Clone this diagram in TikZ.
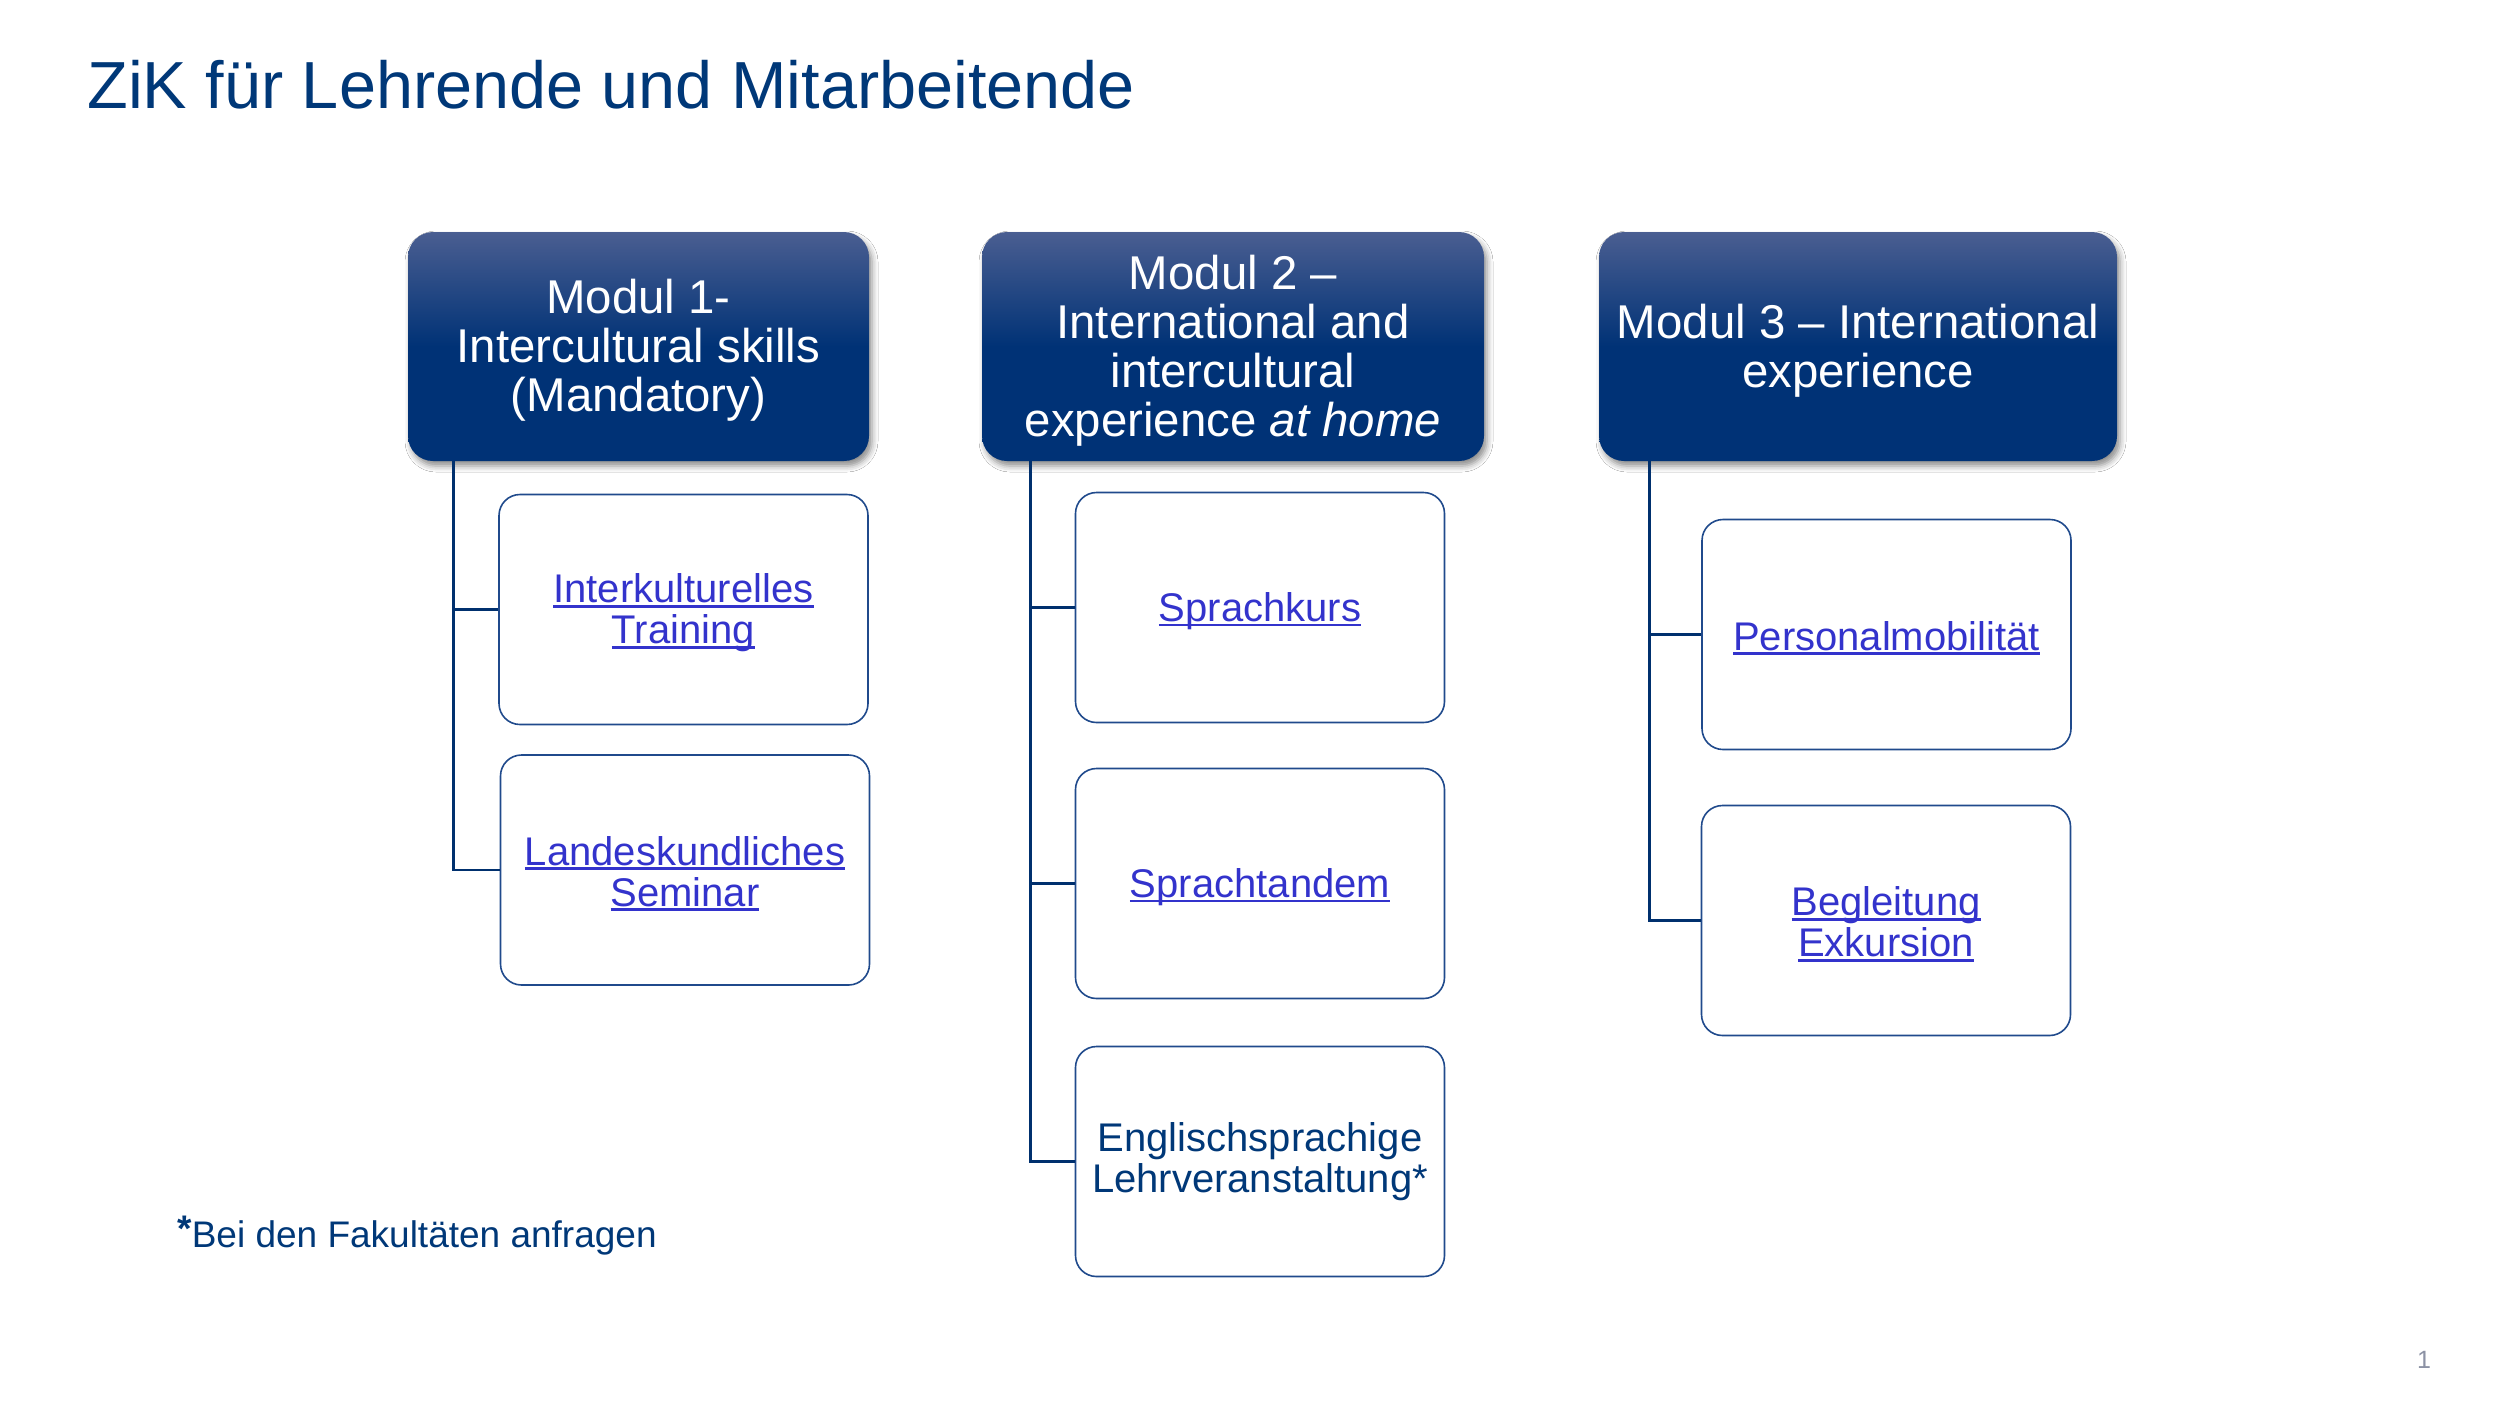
\documentclass[tikz,border=0pt]{standalone}
\usepackage{fontspec}
\setmainfont{Liberation Sans}
\usetikzlibrary{shadows.blur}
\definecolor{navy}{RGB}{0,56,120}
\definecolor{hdtop}{RGB}{74,94,145}
\definecolor{hdbot}{RGB}{0,50,118}
\definecolor{linkc}{RGB}{51,51,204}
\definecolor{bordc}{RGB}{32,74,140}
\definecolor{linec}{RGB}{0,48,110}
\definecolor{pgc}{RGB}{140,146,165}
\newlength\ulwd
\newcommand\lnk[1]{\settowidth\ulwd{#1}\makebox[0pt][l]{\rule[-0.125em]{\ulwd}{0.065em}}#1}
\newcommand\topstrut{\rule{0pt}{0.9em}}
\begin{document}
\begin{tikzpicture}[x=0.5pt,y=-0.5pt,
  hdr/.style={rectangle, rounded corners=12.5pt, top color=hdtop, bottom color=hdbot, middle color=hdbot,
    text=white, align=center, inner sep=0pt, minimum height=114.5pt,
    font=\fontsize{23.7}{24.5}\selectfont,
    blur shadow={shadow xshift=1.5pt, shadow yshift=-2.5pt, shadow blur radius=3pt, shadow opacity=45}},
  itembox/.style={rectangle, rounded corners=10.5pt, draw=bordc, line width=0.8pt, fill=white,
    align=center, inner sep=0pt, minimum width=184.5pt, minimum height=115pt,
    font=\fontsize{20}{20.5}\selectfont, text=linkc},
  conn/.style={draw=linec, line width=1.2pt}
]
\useasboundingbox (0,0) rectangle (2520,1420);
\fill[white] (0,0) rectangle (2520,1420);

% title
\node[anchor=base west, inner sep=0pt, text=navy, font=\fontsize{33.3}{40}\selectfont] (title) at (87,108) {ZiK für Lehrende und Mitarbeitende};

% headers
\node[hdr, minimum width=230.5pt] (m1) at (638.5,346.5) {\topstrut Modul 1-\\Intercultural skills\\(Mandatory)};
\node[hdr, minimum width=251pt] (m2) at (1233,346.5) {\topstrut Modul 2 –\\International and\\intercultural\\experience \textit{at home}};
\node[hdr, minimum width=259pt] (m3) at (1858,346.5) {\topstrut Modul 3 – International\\experience};

% children
\node[itembox] (c11) at (683.5,609.5) {\topstrut\lnk{Interkulturelles}\\\lnk{Training}};
\node[itembox] (c12) at (685,870) {\topstrut\lnk{Landeskundliches}\\\lnk{Seminar}};
\node[itembox] (c21) at (1260,607.5) {\topstrut\lnk{Sprachkurs}};
\node[itembox] (c22) at (1260,883.5) {\topstrut\lnk{Sprachtandem}};
\node[itembox, text=navy] (c23) at (1260,1161.5) {Englischsprachige\\Lehrveranstaltung*};
\node[itembox] (c31) at (1886.5,634.5) {\topstrut\lnk{Personalmobilität}};
\node[itembox] (c32) at (1886,920.5) {\topstrut\lnk{Begleitung}\\\lnk{Exkursion}};

% connectors
\draw[conn] ([xshift=23pt]m1.south west) |- (c11.west);
\draw[conn] ([xshift=23pt]m1.south west) |- (c12.west);
\draw[conn] ([xshift=24.5pt]m2.south west) |- (c21.west);
\draw[conn] ([xshift=24.5pt]m2.south west) |- (c22.west);
\draw[conn] ([xshift=24.5pt]m2.south west) |- (c23.west);
\draw[conn] ([xshift=25.5pt]m3.south west) |- (c31.west);
\draw[conn] ([xshift=25.5pt]m3.south west) |- (c32.west);

% footnote
\node[anchor=base west, inner sep=0pt, text=navy, font=\fontsize{18.5}{22}\selectfont] (fn) at (177,1247) {\raisebox{3pt}{\textbf{*}}Bei den Fakultäten anfragen};

% page number
\node[anchor=base, inner sep=0pt, text=pgc, font=\fontsize{12.5}{14}\selectfont] (pg) at (2424,1368) {1};
\end{tikzpicture}
\end{document}
